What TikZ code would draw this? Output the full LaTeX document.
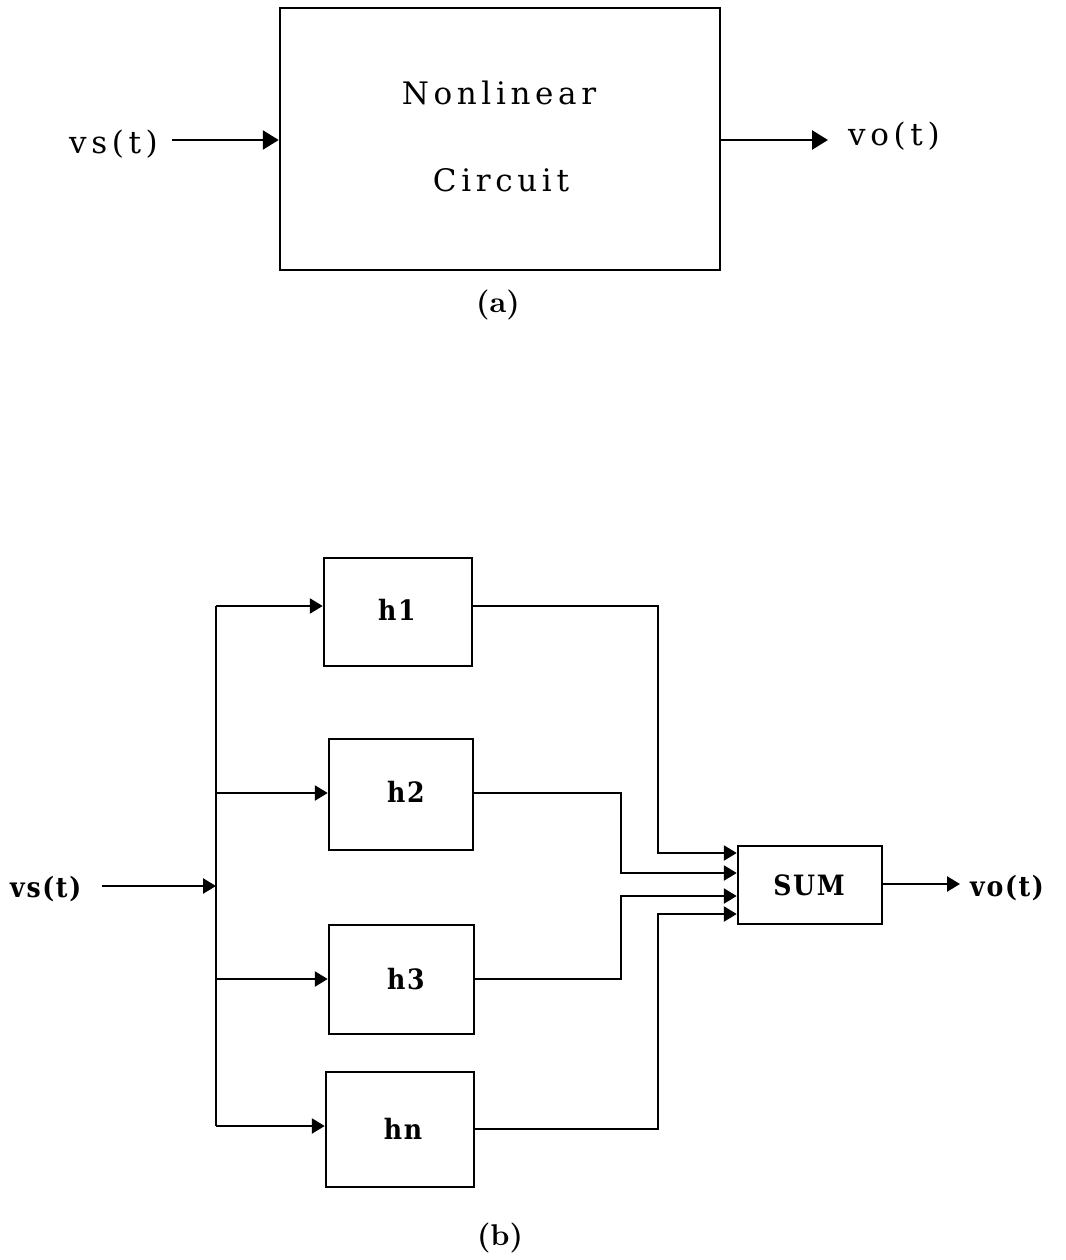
\documentclass[tikz,border=0pt]{standalone}
\usepackage{fontspec}
\setmainfont{lmroman10-regular.otf}[BoldFont=lmroman10-bold.otf]
\newfontfamily\topfont{DejaVu Serif}[LetterSpace=15]
\newfontfamily\botfont{DejaVu Serif}[LetterSpace=6,FakeStretch=0.9]
\usetikzlibrary{arrows.meta}
\begin{document}
\begin{tikzpicture}[x=1pt,y=-1pt,
  box/.style={draw,line width=2.5pt,inner sep=0pt},
  arrA/.style={line width=2.5pt,-{Triangle[length=16pt,width=19pt]}},
  arrB/.style={line width=2.5pt,-{Triangle[length=13pt,width=15pt]}},
  wire/.style={line width=2.5pt},
  toptxt/.style={font=\topfont\fontsize{31}{37}\selectfont,inner sep=0pt},
  bottxt/.style={font=\botfont\bfseries\fontsize{28}{33}\selectfont,inner sep=0pt},
  captxt/.style={font=\bfseries\fontsize{30}{36}\selectfont,inner sep=0pt}]
\useasboundingbox (0,0) rectangle (1065,1260);
% ---------- (a) ----------
\node[box,minimum width=440pt,minimum height=262pt] (nl) at (500,139) {};
\node[toptxt,anchor=base] (t1) at (499,105) {Nonlinear};
\node[toptxt,anchor=base] (t2) at (501,192) {Circuit};
\node[toptxt,anchor=base east] (vsa) at (158,154) {vs(t)};
\node[toptxt,anchor=base west] (voa) at (848,146) {vo(t)};
\coordinate (ain) at (172,140);
\coordinate (aout) at (828,140);
\draw[arrA] (ain) -- (ain -| nl.west);
\draw[arrA] (aout -| nl.east) -- (aout);
\node[captxt] (capa) at (498,305) {(a)};
% ---------- (b) ----------
\node[box,minimum width=148pt,minimum height=108pt] (h1) at (398,612) {};
\node[box,minimum width=144pt,minimum height=111pt] (h2) at (401,794.5) {};
\node[box,minimum width=145pt,minimum height=109pt] (h3) at (401.5,979.5) {};
\node[box,minimum width=148pt,minimum height=115pt] (hn) at (400,1129.5) {};
\node[box,minimum width=144pt,minimum height=78pt] (sum) at (810,885) {};
\node[bottxt,anchor=base] (l1) at (397,620) {h1};
\node[bottxt,anchor=base] (l2) at (406,802) {h2};
\node[bottxt,anchor=base] (l3) at (406,989) {h3};
\node[bottxt,anchor=base] (ln) at (403,1139) {hn};
\node[bottxt,anchor=base] (ls) at (809,895) {SUM};
\node[bottxt,anchor=base west] (vsb) at (10,897) {vs(t)};
\node[bottxt,anchor=base west] (vob) at (970,896) {vo(t)};
\coordinate (bin) at (102,886);
\coordinate (bus) at (216,886);
\coordinate (bt) at (216,606);
\coordinate (bb) at (216,1126);
\coordinate (bout) at (960,884);
\draw[wire] (bt) -- (bb);
\draw[arrB] (bin) -- (bus);
\draw[arrB] (bt) -- (bt -| h1.west);
\draw[arrB] (216,793) -- (h2.west |- 0,793);
\draw[arrB] (216,979) -- (h3.west |- 0,979);
\draw[arrB] (bb) -- (bb -| hn.west);
\draw[arrB] (h1.east |- 0,606) -- (658,606) -- (658,853) -- (sum.west |- 0,853);
\draw[arrB] (h2.east |- 0,793) -- (621,793) -- (621,873) -- (sum.west |- 0,873);
\draw[arrB] (h3.east |- 0,979) -- (621,979) -- (621,896) -- (sum.west |- 0,896);
\draw[arrB] (hn.east |- 0,1129) -- (658,1129) -- (658,914) -- (sum.west |- 0,914);
\draw[arrB] (sum.east |- bout) -- (bout);
\node[captxt] (capb) at (500,1238) {(b)};
\end{tikzpicture}
\end{document}
